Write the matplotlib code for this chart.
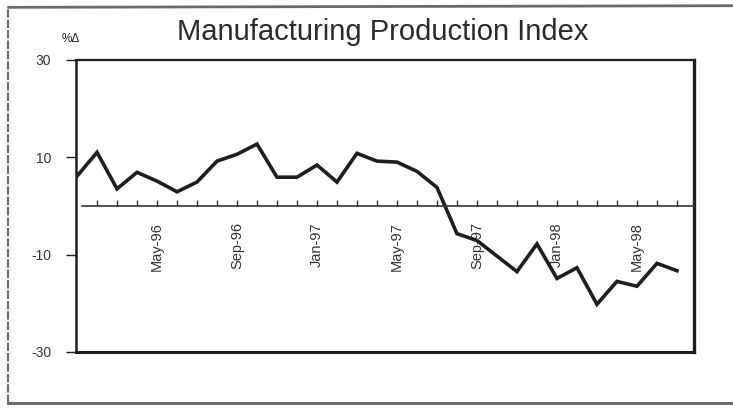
import numpy as np
import pandas as pd
import matplotlib
matplotlib.use('Agg')
import matplotlib.pyplot as plt
from matplotlib.lines import Line2D

plt.rcParams['font.family'] = ['Liberation Sans', 'DejaVu Sans']

# monthly % change, Jan-96 .. Jul-98
months = pd.date_range('1996-01-01', '1998-07-01', freq='MS')
month_labels = [d.strftime('%b-%y') for d in months]
pct_change = [6.1, 11.0, 3.5, 6.9, 5.1, 2.9, 4.9, 9.2, 10.6, 12.7,
              5.9, 5.9, 8.4, 4.9, 10.8, 9.2, 9.0, 7.1, 3.8, -5.7,
              -7.1, -10.3, -13.5, -7.8, -14.9, -12.7, -20.2, -15.5, -16.5, -11.8,
              -13.3]
shown_labels = ['May-96', 'Sep-96', 'Jan-97', 'May-97', 'Sep-97', 'Jan-98', 'May-98']
y_ticks = [30, 10, -10, -30]

ink = '#1e1e1e'

fig = plt.figure(figsize=(7.33, 4.08), dpi=100)
ax = fig.add_axes([0.1037, 0.1373, 0.843, 0.716])

x = np.arange(len(pct_change))
ax.plot(x, pct_change, color=ink, lw=2.6, solid_joinstyle='miter')

ax.set_xlim(-0.05, 30.85)
ax.set_ylim(-30, 30)

# x axis sits on the zero line
ax.spines['bottom'].set_position(('data', 0))
ax.spines['bottom'].set_bounds(0.25, 30.85)
ax.spines['bottom'].set_linewidth(1.2)
ax.spines['bottom'].set_color('#333333')
ax.axhline(-30, color=ink, lw=2.2, clip_on=False)
for s, w in [('top', 1.6), ('left', 1.8), ('right', 2.4)]:
    ax.spines[s].set_linewidth(w)
    ax.spines[s].set_color(ink)

tick_pos = [month_labels.index(l) for l in shown_labels]
ax.set_xticks(tick_pos)
ax.set_xticklabels(shown_labels, rotation=90, fontsize=10.5, color='#333333')
ax.set_xticks(x[1:], minor=True)
ax.tick_params(axis='x', which='both', direction='in', length=4, width=1,
               color='#333333', pad=11.5)

ax.set_yticks(y_ticks)
ax.set_yticklabels([str(v) for v in y_ticks], fontsize=10, color='#333333')
ax.tick_params(axis='y', direction='out', length=7, width=1, color=ink, pad=11)

fig.text(0.084, 0.905, '%\u0394', fontsize=8.5, color=ink, ha='left', va='center')
fig.suptitle('Manufacturing Production Index', x=0.522, y=0.955, fontsize=21,
             color='#2a2a2a')

# scanned page frame
frame_c = '#6a6a6a'
fig.add_artist(Line2D([0.012, 1.0], [0.982, 0.986], transform=fig.transFigure, color=frame_c, lw=2))
fig.add_artist(Line2D([0.011, 0.011], [0.012, 0.982], transform=fig.transFigure, color=frame_c, lw=1.5, ls=(0, (4, 1))))
fig.add_artist(Line2D([0.011, 1.0], [0.012, 0.012], transform=fig.transFigure, color=frame_c, lw=2.2))

fig.savefig('out.png', dpi=100)
